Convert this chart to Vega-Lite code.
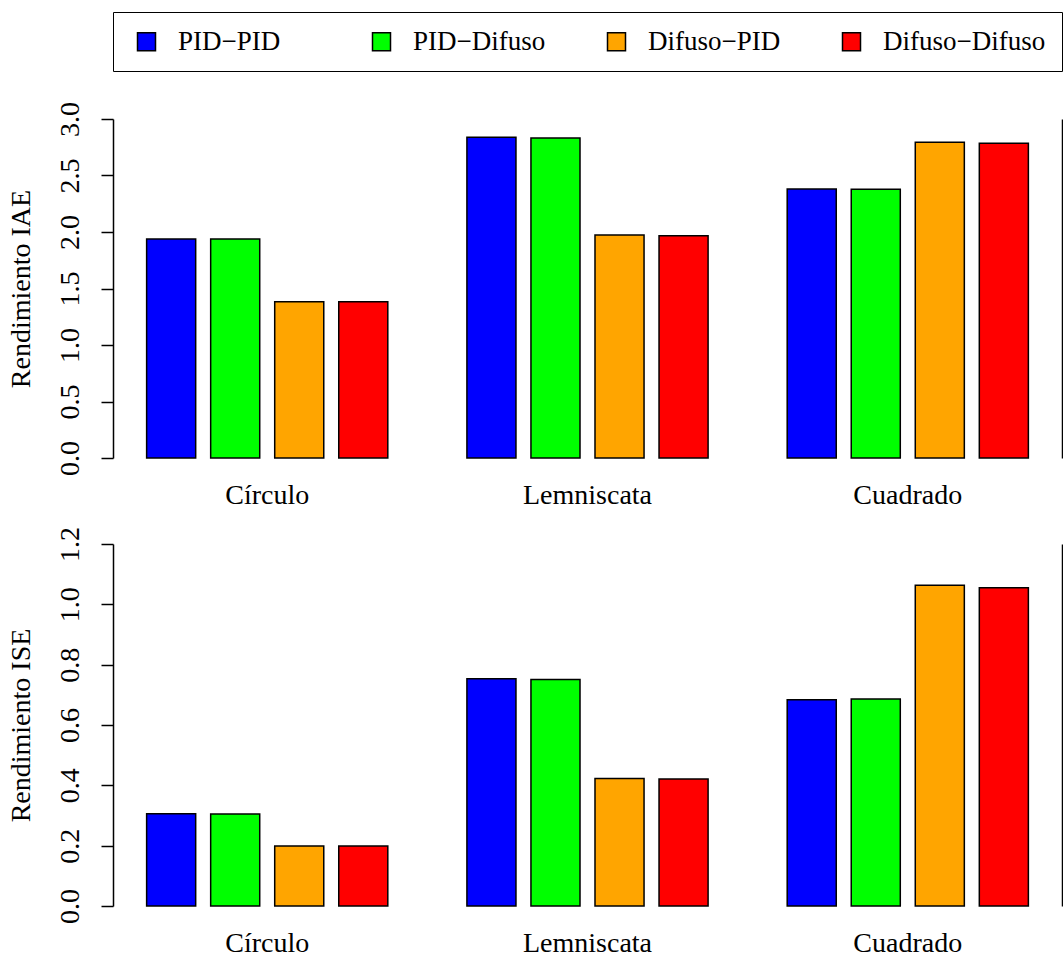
{
  "$schema": "https://vega.github.io/schema/vega-lite/v6.json",
  "background": "white",
  "padding": {"left": 6, "top": 11, "right": 0, "bottom": 0},
  "bounds": "flush",
  "spacing": 86,
  "config": {
    "font": "Liberation Serif",
    "view": {"stroke": null},
    "axis": {"grid": false, "labelColor": "black", "titleColor": "black", "labelFontSize": 28, "titleFontSize": 28, "titleFontWeight": "normal", "domainColor": "black", "tickColor": "black", "domainWidth": 1.5, "tickWidth": 1.5}
  },
  "data": {"values": [
    {"metric": "IAE", "traj": "Círculo", "ctrl": "PID−PID", "value": 1.938},
    {"metric": "IAE", "traj": "Círculo", "ctrl": "PID−Difuso", "value": 1.938},
    {"metric": "IAE", "traj": "Círculo", "ctrl": "Difuso−PID", "value": 1.383},
    {"metric": "IAE", "traj": "Círculo", "ctrl": "Difuso−Difuso", "value": 1.383},
    {"metric": "IAE", "traj": "Lemniscata", "ctrl": "PID−PID", "value": 2.838},
    {"metric": "IAE", "traj": "Lemniscata", "ctrl": "PID−Difuso", "value": 2.832},
    {"metric": "IAE", "traj": "Lemniscata", "ctrl": "Difuso−PID", "value": 1.973},
    {"metric": "IAE", "traj": "Lemniscata", "ctrl": "Difuso−Difuso", "value": 1.967},
    {"metric": "IAE", "traj": "Cuadrado", "ctrl": "PID−PID", "value": 2.381},
    {"metric": "IAE", "traj": "Cuadrado", "ctrl": "PID−Difuso", "value": 2.378},
    {"metric": "IAE", "traj": "Cuadrado", "ctrl": "Difuso−PID", "value": 2.794},
    {"metric": "IAE", "traj": "Cuadrado", "ctrl": "Difuso−Difuso", "value": 2.785},
    {"metric": "ISE", "traj": "Círculo", "ctrl": "PID−PID", "value": 0.306},
    {"metric": "ISE", "traj": "Círculo", "ctrl": "PID−Difuso", "value": 0.305},
    {"metric": "ISE", "traj": "Círculo", "ctrl": "Difuso−PID", "value": 0.199},
    {"metric": "ISE", "traj": "Círculo", "ctrl": "Difuso−Difuso", "value": 0.199},
    {"metric": "ISE", "traj": "Lemniscata", "ctrl": "PID−PID", "value": 0.753},
    {"metric": "ISE", "traj": "Lemniscata", "ctrl": "PID−Difuso", "value": 0.751},
    {"metric": "ISE", "traj": "Lemniscata", "ctrl": "Difuso−PID", "value": 0.423},
    {"metric": "ISE", "traj": "Lemniscata", "ctrl": "Difuso−Difuso", "value": 0.421},
    {"metric": "ISE", "traj": "Cuadrado", "ctrl": "PID−PID", "value": 0.684},
    {"metric": "ISE", "traj": "Cuadrado", "ctrl": "PID−Difuso", "value": 0.686},
    {"metric": "ISE", "traj": "Cuadrado", "ctrl": "Difuso−PID", "value": 1.063},
    {"metric": "ISE", "traj": "Cuadrado", "ctrl": "Difuso−Difuso", "value": 1.055}
  ]},
  "vconcat": [
    {
      "transform": [{"filter": "datum.metric === 'IAE'"}],
      "width": 949,
      "height": 339,
      "encoding": {
        "x": {"field": "traj", "type": "nominal", "sort": ["Círculo", "Lemniscata", "Cuadrado"], "scale": {"paddingInner": 0.247, "paddingOuter": 0.105}, "axis": {"title": null, "labelAngle": 0, "domain": false, "ticks": false, "labelPadding": 23, "labelBaseline": "top"}},
        "xOffset": {"field": "ctrl", "type": "nominal", "sort": ["PID−PID", "PID−Difuso", "Difuso−PID", "Difuso−Difuso"], "scale": {"paddingInner": 0.234, "paddingOuter": 0}}
      },
      "layer": [
        {
          "mark": {"type": "bar", "stroke": "black", "strokeWidth": 1.5},
          "encoding": {
            "y": {"field": "value", "type": "quantitative", "scale": {"domain": [0, 3], "nice": false}, "axis": {"title": "Rendimiento IAE", "values": [0, 0.5, 1, 1.5, 2, 2.5, 3], "format": ".1f", "labelAngle": -90, "labelAlign": "center", "labelBaseline": "alphabetic", "tickSize": 12, "labelPadding": 23, "titlePadding": 21}},
            "color": {"field": "ctrl", "type": "nominal", "sort": ["PID−PID", "PID−Difuso", "Difuso−PID", "Difuso−Difuso"], "scale": {"domain": ["PID−PID", "PID−Difuso", "Difuso−PID", "Difuso−Difuso"], "range": ["#0000FF", "#00FF00", "#FFA500", "#FF0000"]},
              "legend": {"orient": "top", "direction": "horizontal", "columns": 4, "gridAlign": "all", "strokeColor": "black", "padding": 16, "columnPadding": 23, "symbolType": "square", "symbolSize": 324, "symbolOffset": 4, "symbolStrokeColor": "black", "symbolStrokeWidth": 1.5, "symbolOpacity": 1, "labelFontSize": 27, "labelColor": "black", "labelOffset": 18, "labelLimit": 400, "offset": 30, "title": null}}
          }
        },
        {
          "mark": {"type": "bar", "opacity": 0},
          "encoding": {
            "y": {"field": "value", "type": "quantitative", "axis": {"orient": "right", "labels": false, "ticks": false, "title": null}}
          }
        }
      ],
      "resolve": {"axis": {"y": "independent"}}
    },
    {
      "transform": [{"filter": "datum.metric === 'ISE'"}],
      "width": 949,
      "height": 362,
      "encoding": {
        "x": {"field": "traj", "type": "nominal", "sort": ["Círculo", "Lemniscata", "Cuadrado"], "scale": {"paddingInner": 0.247, "paddingOuter": 0.105}, "axis": {"title": null, "labelAngle": 0, "domain": false, "ticks": false, "labelPadding": 23, "labelBaseline": "top"}},
        "xOffset": {"field": "ctrl", "type": "nominal", "sort": ["PID−PID", "PID−Difuso", "Difuso−PID", "Difuso−Difuso"], "scale": {"paddingInner": 0.234, "paddingOuter": 0}}
      },
      "layer": [
        {
          "mark": {"type": "bar", "stroke": "black", "strokeWidth": 1.5},
          "encoding": {
            "y": {"field": "value", "type": "quantitative", "scale": {"domain": [0, 1.2], "nice": false}, "axis": {"title": "Rendimiento ISE", "values": [0, 0.2, 0.4, 0.6, 0.8, 1.0, 1.2], "format": ".1f", "labelAngle": -90, "labelAlign": "center", "labelBaseline": "alphabetic", "tickSize": 12, "labelPadding": 23, "titlePadding": 21}},
            "color": {"field": "ctrl", "type": "nominal", "sort": ["PID−PID", "PID−Difuso", "Difuso−PID", "Difuso−Difuso"], "scale": {"domain": ["PID−PID", "PID−Difuso", "Difuso−PID", "Difuso−Difuso"], "range": ["#0000FF", "#00FF00", "#FFA500", "#FF0000"]}}
          }
        },
        {
          "mark": {"type": "bar", "opacity": 0},
          "encoding": {
            "y": {"field": "value", "type": "quantitative", "axis": {"orient": "right", "labels": false, "ticks": false, "title": null}}
          }
        }
      ],
      "resolve": {"axis": {"y": "independent"}}
    }
  ]
}
